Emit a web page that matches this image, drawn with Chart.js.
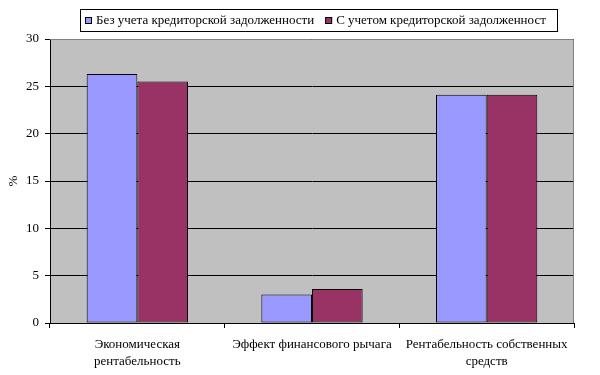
<!DOCTYPE html>
<html>
<head>
<meta charset="utf-8">
<script src="https://cdn.jsdelivr.net/npm/chart.js@4"></script>
<style>
  html, body { margin: 0; padding: 0; background: #fff; }
  #wrap { width: 600px; height: 375px; }
</style>
</head>
<body>
<div id="wrap"><canvas id="chart" width="600" height="375"></canvas></div>
<script>
var categories = [
    ["Экономическая", "рентабельность"],
    ["Эффект финансового рычага"],
    ["Рентабельность собственных", "средств"]
];
var seriesNames = ["Без учета кредиторской задолженности", "С учетом кредиторской задолженност"];
var withoutPayables = [26.3, 3.0, 24.1];
var withPayables = [25.5, 3.6, 24.1];
var yTicks = [0, 5, 10, 15, 20, 25, 30];
var seriesColors = ["#9999FF", "#993366"];

var FONT = "Liberation Serif";

// grey plot area + gray frame
var plotBg = {
    id: "plotBg",
    beforeDraw: function(chart){
        var a = chart.chartArea, ctx = chart.ctx;
        ctx.save();
        ctx.fillStyle = "#C0C0C0";
        ctx.fillRect(a.left, a.top, a.right - a.left, a.bottom - a.top);
        ctx.restore();
    },
    afterDraw: function(chart){
        var a = chart.chartArea, ctx = chart.ctx;
        ctx.save();
        ctx.strokeStyle = "#808080";
        ctx.lineWidth = 1;
        ctx.beginPath();
        ctx.moveTo(a.left, a.top + 0.5);
        ctx.lineTo(a.right - 0.5, a.top + 0.5);
        ctx.lineTo(a.right - 0.5, a.bottom);
        ctx.stroke();
        ctx.restore();
    }
};

// boxed legend like the excel one
var boxLegend = {
    id: "boxLegend",
    afterDraw: function(chart){
        var ctx = chart.ctx;
        ctx.save();
        ctx.strokeStyle = "#000";
        ctx.lineWidth = 1;
        ctx.strokeRect(80.5, 9.5, 477, 22);
        ctx.font = "13px '" + FONT + "', serif";
        ctx.textBaseline = "middle";
        var x = 85;
        chart.data.datasets.forEach(function(ds, i){
            ctx.fillStyle = ds.backgroundColor;
            ctx.fillRect(x, 17, 7, 7);
            ctx.strokeRect(x + 0.5, 17.5, 6, 6);
            ctx.fillStyle = "#000";
            ctx.fillText(ds.label, x + 11, 21);
            x += 11 + ctx.measureText(ds.label).width + 11;
        });
        ctx.restore();
    }
};

new Chart(document.getElementById("chart"), {
    type: "bar",
    data: {
        labels: categories,
        datasets: [{
            label: seriesNames[0],
            data: withoutPayables,
            backgroundColor: seriesColors[0],
            borderColor: "#000",
            borderWidth: 1,
            borderSkipped: false
        }, {
            label: seriesNames[1],
            data: withPayables,
            backgroundColor: seriesColors[1],
            borderColor: "#000",
            borderWidth: 1,
            borderSkipped: false
        }]
    },
    options: {
        responsive: false,
        animation: false,
        devicePixelRatio: 1,
        layout: { padding: { top: 39, right: 26, left: 6, bottom: 0 } },
        plugins: {
            legend: { display: false },
            tooltip: { enabled: false }
        },
        datasets: { bar: { categoryPercentage: 0.58, barPercentage: 1 } },
        scales: {
            x: {
                grid: { offset: true, drawOnChartArea: false, drawTicks: true, tickLength: 5, color: "#000" },
                border: { display: true, color: "#000" },
                ticks: { color: "#000", font: { family: FONT, size: 13, lineHeight: 1.3 }, maxRotation: 0, autoSkip: false, padding: 8 },
                afterFit: function(s){ s.height = 52; }
            },
            y: {
                min: 0,
                max: 30,
                afterBuildTicks: function(s){ s.ticks = yTicks.map(function(v){ return { value: v }; }); },
                grid: { color: "#000", tickLength: 5 },
                border: { display: true, color: "#000" },
                ticks: { color: "#000", font: { family: FONT, size: 13 }, padding: 6 },
                title: { display: true, text: "%", color: "#000", font: { family: FONT, size: 13 }, padding: 0 },
                afterFit: function(s){ s.width = 44; }
            }
        }
    },
    plugins: [plotBg, boxLegend]
});
</script>
</body>
</html>
